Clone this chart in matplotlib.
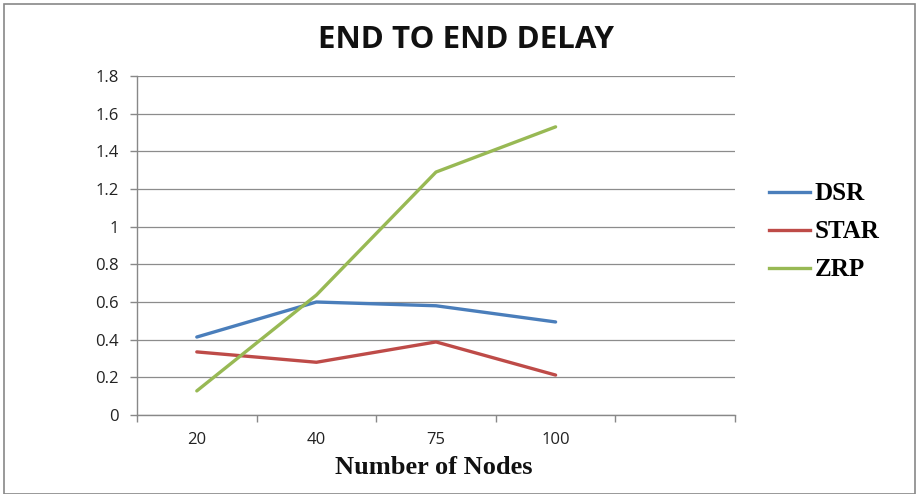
import matplotlib
matplotlib.use("Agg")
import matplotlib.pyplot as plt
from matplotlib.patches import Rectangle
from matplotlib.lines import Line2D

categories = ["20", "40", "75", "100", ""]
dsr = [0.414, 0.60, 0.58, 0.494]
star = [0.335, 0.28, 0.388, 0.212]
zrp = [0.128, 0.637, 1.29, 1.53]
series_names = ["DSR", "STAR", "ZRP"]
colors = ["#4A7EBB", "#BE4B48", "#98B954"]
yticks = [0, 0.2, 0.4, 0.6, 0.8, 1, 1.2, 1.4, 1.6, 1.8]
ytick_labels = ["0", "0.2", "0.4", "0.6", "0.8", "1", "1.2", "1.4", "1.6", "1.8"]

fig = plt.figure(figsize=(9.18, 4.94), dpi=100)
ax = fig.add_axes([137/918, 1-415/494, (735-137)/918, (415-76)/494])

xs = list(range(len(categories)))
for vals, c, n in zip([dsr, star, zrp], colors, series_names):
    ax.plot(xs[:len(vals)], vals, color=c, lw=2.4, label=n, solid_capstyle="round")

ax.set_xlim(-0.5, len(categories) - 0.5)
ax.set_ylim(0, 1.8)
ax.set_yticks(yticks)
ax.set_yticklabels(ytick_labels, fontfamily="Open Sans", fontsize=12, color="#222222")
ax.set_xticks(xs)
ax.set_xticklabels(categories, fontfamily="Open Sans", fontsize=12, color="#222222")
ax.set_xticks([i - 0.5 for i in range(len(categories) + 1)], minor=True)
ax.tick_params(axis="x", which="major", length=0, pad=12)
ax.tick_params(axis="x", which="minor", length=5, color="#888888", width=1)
ax.tick_params(axis="y", length=5, color="#888888", width=1, pad=8)
ax.grid(axis="y", color="#8c8c8c", lw=0.9)
ax.set_axisbelow(True)
for s in ["top", "right"]:
    ax.spines[s].set_visible(False)
for s in ["left", "bottom"]:
    ax.spines[s].set_color("#888888")
    ax.spines[s].set_linewidth(1)

fig.text(466/918, 1-40/494, "END TO END DELAY", ha="center", va="center",
         fontfamily="Open Sans", fontweight="bold", fontsize=22.5, color="#111111")
fig.text(434/918, 1-467/494, "Number of Nodes", ha="center", va="center",
         fontfamily="Liberation Serif", fontweight="bold", fontsize=19, color="#111111")

handles = [Line2D([0], [0], color=c, lw=2.4) for c in colors]
leg = fig.legend(handles, series_names, loc="upper left", bbox_to_anchor=(746/918, 1-160/494),
                 frameon=False, prop={"family": "Liberation Serif", "weight": "bold", "size": 18},
                 handlelength=1.65, handletextpad=0.2, labelspacing=0.6)

fig.patches.append(Rectangle((4/918, 0), 911/918, 1-4/494, transform=fig.transFigure,
                             fill=False, edgecolor="#888888", lw=1.2))

fig.savefig("out.png", dpi=100)
